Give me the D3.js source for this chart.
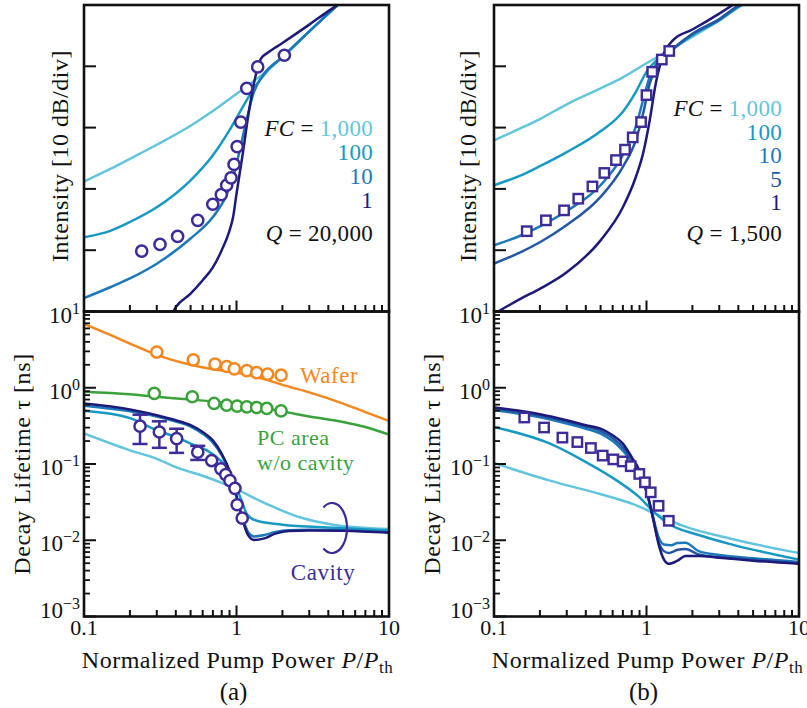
<!DOCTYPE html>
<html>
<head>
<meta charset="utf-8">
<script src="https://cdn.jsdelivr.net/npm/d3@7"></script>
<style>
  html, body { margin: 0; padding: 0; background: #fff; }
  svg { display: block; }
  text { font-family: "Liberation Serif", "Times New Roman", serif; fill: #111; }
</style>
</head>
<body>
<svg id="fig" width="807" height="708"></svg>
<script>
// ---------- axis ticks ----------
const pumpMajor = [0.1, 1, 10];
const pumpMajorLabels = ["0.1", "1", "10"];
const lifetimeExponents = [1, 0, -1, -2, -3];
const intensityTicks = [1, 2, 3, 4];          // divisions of 10 dB

// ---------- (a) Q = 20,000 : intensity [div] vs P/Pth ----------
const intA_fc1000 = [[0.1,2.12],[0.15,2.33],[0.2,2.49],[0.3,2.72],[0.5,3.03],[0.7,3.27],[1,3.55],[1.5,3.88],[2,4.15],[3,4.57],[4,4.86],[5,5.08]];
const intA_fc100  = [[0.1,1.21],[0.15,1.32],[0.2,1.46],[0.3,1.70],[0.5,2.14],[0.7,2.55],[0.9,2.96],[1.1,3.34],[1.3,3.64],[1.6,3.93],[2,4.15],[3,4.57],[4,4.86],[5,5.08]];
const intA_fc10   = [[0.1,0.22],[0.15,0.40],[0.2,0.54],[0.3,0.78],[0.5,1.19],[0.7,1.54],[0.85,1.87],[0.95,2.19],[1.05,2.63],[1.15,3.07],[1.3,3.58],[1.5,3.86],[2,4.15],[3,4.57],[4,4.86],[5,5.08]];
const intA_fc1    = [[0.36,-0.15],[0.4,0.07],[0.5,0.29],[0.6,0.51],[0.7,0.72],[0.8,1.0],[0.9,1.32],[0.95,1.54],[1.0,1.92],[1.1,2.58],[1.2,3.23],[1.3,3.72],[1.45,4.13],[1.6,4.22],[2,4.38],[3,4.68],[4,4.90],[5,5.06]];
const intA_meas   = [[0.239,0.985],[0.315,1.095],[0.411,1.225],[0.557,1.487],[0.699,1.75],[0.795,1.907],[0.862,2.06],[0.921,2.18],[0.964,2.40],[1.01,2.69],[1.067,3.09],[1.168,3.64],[1.377,3.99],[2.06,4.18]];

// ---------- (b) Q = 1,500 : intensity [div] vs P/Pth ----------
const intB_fc1000 = [[0.1,2.79],[0.15,2.99],[0.2,3.14],[0.3,3.38],[0.5,3.64],[0.7,3.82],[1,4.05],[1.4,4.26],[2,4.48],[3,4.75],[4,4.96],[5,5.1]];
const intB_fc100  = [[0.1,2.06],[0.15,2.22],[0.2,2.37],[0.3,2.60],[0.5,2.94],[0.7,3.26],[0.85,3.58],[1.0,3.91],[1.2,4.13],[1.5,4.29],[2,4.51],[3,4.75],[4,4.97],[5,5.1]];
const intB_fc10   = [[0.1,1.08],[0.15,1.24],[0.2,1.39],[0.3,1.64],[0.5,2.06],[0.7,2.55],[0.85,3.01],[0.95,3.45],[1.05,3.83],[1.2,4.10],[1.5,4.29],[2,4.52],[3,4.76],[4,4.98],[5,5.1]];
const intB_fc5    = [[0.1,0.78],[0.15,0.97],[0.2,1.13],[0.3,1.41],[0.5,1.87],[0.7,2.36],[0.85,2.79],[0.95,3.23],[1.05,3.72],[1.2,4.05],[1.5,4.29],[2,4.53],[3,4.77],[4,4.99],[5,5.1]];
const intB_fc1    = [[0.1,-0.04],[0.15,0.21],[0.2,0.37],[0.3,0.64],[0.5,1.16],[0.7,1.70],[0.85,2.19],[0.95,2.58],[1.05,3.12],[1.15,3.72],[1.3,4.21],[1.5,4.43],[2,4.60],[3,4.86],[4,5.06]];
const intB_meas   = [[0.164,1.31],[0.219,1.487],[0.288,1.65],[0.357,1.84],[0.442,2.04],[0.529,2.26],[0.631,2.47],[0.723,2.64],[0.812,2.84],[0.921,3.09],[1.0,3.53],[1.09,3.91],[1.26,4.11],[1.41,4.25]];

// ---------- (a) decay lifetime [ns] ----------
const tauA_wafer  = [[0.1,6.9],[0.15,4.9],[0.2,3.8],[0.3,2.7],[0.5,2.0],[0.7,1.75],[1,1.58],[1.5,1.31],[2,1.09],[3,0.87],[5,0.62],[7,0.48],[10,0.367]];
const tauA_pc     = [[0.1,0.887],[0.2,0.82],[0.3,0.76],[0.5,0.70],[1,0.61],[2,0.49],[3,0.42],[5,0.356],[7,0.306],[10,0.243]];
const tauA_fc1    = [[0.1,0.62],[0.2,0.52],[0.3,0.436],[0.4,0.375],[0.5,0.323],[0.6,0.263],[0.7,0.204],[0.8,0.136],[0.9,0.082],[1.0,0.038],[1.1,0.018],[1.2,0.0114],[1.3,0.0101],[1.5,0.0105],[1.8,0.0122],[2.2,0.0132],[3,0.0134],[5,0.0133],[10,0.0125]];
const tauA_fc10   = [[0.1,0.58],[0.2,0.49],[0.3,0.42],[0.4,0.36],[0.5,0.31],[0.6,0.25],[0.7,0.19],[0.8,0.13],[0.9,0.078],[1.0,0.037],[1.1,0.019],[1.2,0.0125],[1.3,0.0112],[1.5,0.0116],[1.8,0.0128],[2.2,0.0135],[3,0.0137],[5,0.0135],[10,0.0128]];
const tauA_fc100  = [[0.1,0.5],[0.2,0.40],[0.3,0.277],[0.4,0.226],[0.5,0.185],[0.64,0.151],[0.75,0.12],[0.86,0.091],[1.0,0.049],[1.1,0.03],[1.17,0.022],[1.36,0.018],[2,0.016],[4.3,0.0146],[10,0.0134]];
const tauA_fc1000 = [[0.1,0.251],[0.2,0.151],[0.3,0.117],[0.4,0.091],[0.64,0.067],[0.95,0.049],[1.58,0.0298],[2.6,0.020],[4.3,0.016],[10,0.014]];
const tauA_waferMeas = [[0.3,2.94],[0.521,2.32],[0.723,2.04],[0.862,1.90],[0.968,1.77],[1.168,1.68],[1.356,1.58],[1.6,1.51],[1.96,1.46]];
const tauA_pcMeas    = [[0.289,0.845],[0.513,0.762],[0.713,0.622],[0.862,0.59],[1.01,0.574],[1.168,0.562],[1.356,0.551],[1.58,0.535],[1.96,0.497]];
const tauA_cavMeas   = [[0.233,0.313],[0.312,0.263],[0.405,0.215],[0.557,0.143],[0.687,0.111],[0.79,0.0865],[0.85,0.0727],[0.906,0.0605],[0.977,0.0479],[1.01,0.0292],[1.09,0.0195]];
const tauA_cavErr    = [0.13, 0.10, 0.075, 0.03];

// ---------- (b) decay lifetime [ns] ----------
const tauB_fc1    = [[0.1,0.55],[0.2,0.45],[0.3,0.375],[0.4,0.323],[0.5,0.291],[0.6,0.238],[0.7,0.185],[0.8,0.123],[0.9,0.082],[1.0,0.045],[1.1,0.02],[1.2,0.0089],[1.3,0.0056],[1.4,0.0049],[1.6,0.0054],[1.8,0.0062],[2.2,0.0062],[3,0.0059],[5,0.0054],[10,0.0049]];
const tauB_fc5    = [[0.1,0.53],[0.2,0.43],[0.3,0.36],[0.4,0.31],[0.5,0.27],[0.6,0.22],[0.7,0.165],[0.8,0.115],[0.9,0.078],[1.0,0.044],[1.1,0.02],[1.2,0.0095],[1.3,0.0072],[1.4,0.0068],[1.6,0.0075],[1.8,0.0077],[2.2,0.0065],[3,0.006],[5,0.0056],[10,0.005]];
const tauB_fc10   = [[0.1,0.51],[0.2,0.41],[0.3,0.34],[0.4,0.29],[0.5,0.25],[0.6,0.2],[0.7,0.15],[0.8,0.108],[0.9,0.072],[1.0,0.043],[1.1,0.021],[1.2,0.011],[1.3,0.0088],[1.45,0.0086],[1.6,0.0092],[1.8,0.0093],[2.2,0.0072],[3,0.0064],[5,0.0058],[10,0.0052]];
const tauB_fc100  = [[0.1,0.306],[0.233,0.185],[0.385,0.111],[0.64,0.0605],[0.9,0.0365],[1.1,0.0243],[1.36,0.017],[2.2,0.0117],[3.7,0.0087],[10,0.0056]];
const tauB_fc1000 = [[0.1,0.103],[0.233,0.0605],[0.496,0.0404],[0.818,0.0298],[1.1,0.023],[1.74,0.0154],[3.7,0.0103],[10,0.0068]];
const tauB_meas   = [[0.158,0.407],[0.213,0.301],[0.281,0.222],[0.352,0.194],[0.432,0.162],[0.516,0.129],[0.606,0.115],[0.698,0.108],[0.788,0.0936],[0.897,0.0741],[0.977,0.0575],[1.066,0.0425],[1.2,0.0283],[1.4,0.018]];

// ---------- legend text ----------
const fcLabelsA = ["1,000", "100", "10", "1"];
const fcLabelsB = ["1,000", "100", "10", "5", "1"];
const qLabelA = "20,000";
const qLabelB = "1,500";

// ---------- styling ----------
const COL = {
  fc1000: "#62c5dc", fc100: "#1899c4", fc10: "#1c78b8", fc5: "#2457a3", fc1: "#1d1a7a",
  marker: "#3d2c98", wafer: "#f4871e", pc: "#3aa23a"
};

const svg = d3.select("#fig");
const panels = [
  { key: "a", x0: 84, x1: 389 },
  { key: "b", x0: 494, x1: 799 }
];
const TOP = { y0: 5, y1: 311.5 };
const BOT = { y0: 311.5, y1: 616.5 };

const yInt = d3.scaleLinear().domain([0, 5]).range([TOP.y1, TOP.y0]);
const yTau = d3.scaleLog().domain([1e-3, 10]).range([BOT.y1, BOT.y0]);

function lineGen(x, y) {
  return d3.line().x(d => x(d[0])).y(d => y(d[1])).curve(d3.curveMonotoneX);
}

function drawFrame(g, x0, x1, y0, y1) {
  g.append("rect").attr("x", x0).attr("y", y0).attr("width", x1 - x0).attr("height", y1 - y0)
    .attr("fill", "none").attr("stroke", "#111").attr("stroke-width", 2.6);
}

function xTicks(g, x, yBase) {
  const minor = [];
  [0.1, 1].forEach(dec => { for (let k = 2; k <= 9; k++) minor.push(dec * k); });
  g.selectAll(null).data(minor).enter().append("line")
    .attr("x1", d => x(d)).attr("x2", d => x(d)).attr("y1", yBase).attr("y2", yBase - 6.5)
    .attr("stroke", "#111").attr("stroke-width", 2);
  g.selectAll(null).data(pumpMajor).enter().append("line")
    .attr("x1", d => x(d)).attr("x2", d => x(d)).attr("y1", yBase).attr("y2", yBase - 11)
    .attr("stroke", "#111").attr("stroke-width", 2);
}

function powLabel(g, xr, y, exp) {
  const t = g.append("text").attr("x", xr).attr("y", y).attr("text-anchor", "end").attr("font-size", 23);
  t.append("tspan").text("10");
  t.append("tspan").attr("dy", -9).attr("font-size", 16).text(exp < 0 ? "\u2212" + (-exp) : String(exp));
}

function drawSeries(g, data, x, y, color, clipId) {
  g.append("path").datum(data).attr("d", lineGen(x, y)).attr("fill", "none")
    .attr("stroke", color).attr("stroke-width", 2.5).attr("stroke-linejoin", "round")
    .attr("clip-path", `url(#${clipId})`);
}

function drawCircles(g, data, x, y, color) {
  g.selectAll(null).data(data).enter().append("circle")
    .attr("cx", d => x(d[0])).attr("cy", d => y(d[1])).attr("r", 5.6)
    .attr("fill", "#fff").attr("stroke", color).attr("stroke-width", 2.5);
}

function drawSquares(g, data, x, y, color) {
  const s = 9.4;
  g.selectAll(null).data(data).enter().append("rect")
    .attr("x", d => x(d[0]) - s / 2).attr("y", d => y(d[1]) - s / 2).attr("width", s).attr("height", s)
    .attr("fill", "#fff").attr("stroke", color).attr("stroke-width", 2.4);
}

const defs = svg.append("defs");

panels.forEach(p => {
  const x = d3.scaleLog().domain([0.1, 10]).range([p.x0, p.x1]);
  const g = svg.append("g");

  defs.append("clipPath").attr("id", "clipTop" + p.key).append("rect")
    .attr("x", p.x0).attr("y", TOP.y0).attr("width", p.x1 - p.x0).attr("height", TOP.y1 - TOP.y0);
  defs.append("clipPath").attr("id", "clipBot" + p.key).append("rect")
    .attr("x", p.x0).attr("y", BOT.y0).attr("width", p.x1 - p.x0).attr("height", BOT.y1 - BOT.y0);

  // ----- intensity panel -----
  const topSeries = p.key === "a"
    ? [[intA_fc1000, COL.fc1000], [intA_fc100, COL.fc100], [intA_fc10, COL.fc10], [intA_fc1, COL.fc1]]
    : [[intB_fc1000, COL.fc1000], [intB_fc100, COL.fc100], [intB_fc10, COL.fc10], [intB_fc5, COL.fc5], [intB_fc1, COL.fc1]];
  topSeries.forEach(([d, c]) => drawSeries(g, d, x, yInt, c, "clipTop" + p.key));
  if (p.key === "a") drawCircles(g, intA_meas, x, yInt, COL.marker);
  else drawSquares(g, intB_meas, x, yInt, COL.marker);

  // ----- lifetime panel -----
  if (p.key === "a") {
    drawSeries(g, tauA_wafer, x, yTau, COL.wafer, "clipBota");
    drawSeries(g, tauA_pc, x, yTau, COL.pc, "clipBota");
    [[tauA_fc1000, COL.fc1000], [tauA_fc100, COL.fc100], [tauA_fc10, COL.fc10], [tauA_fc1, COL.fc1]]
      .forEach(([d, c]) => drawSeries(g, d, x, yTau, c, "clipBota"));
    drawCircles(g, tauA_waferMeas, x, yTau, COL.wafer);
    drawCircles(g, tauA_pcMeas, x, yTau, COL.pc);
    // error bars on the first cavity points
    const eb = tauA_cavErr.map((e, i) => ({ p: tauA_cavMeas[i][0], v: tauA_cavMeas[i][1], e }));
    eb.forEach(d => {
      const cx = x(d.p), ylo = yTau(d.v - d.e), yhi = yTau(d.v + d.e);
      g.append("line").attr("x1", cx).attr("x2", cx).attr("y1", ylo).attr("y2", yhi)
        .attr("stroke", COL.marker).attr("stroke-width", 2.5);
      [ylo, yhi].forEach(yy => g.append("line").attr("x1", cx - 7.5).attr("x2", cx + 7.5)
        .attr("y1", yy).attr("y2", yy).attr("stroke", COL.marker).attr("stroke-width", 2.5));
    });
    drawCircles(g, tauA_cavMeas, x, yTau, COL.marker);
  } else {
    [[tauB_fc1000, COL.fc1000], [tauB_fc100, COL.fc100], [tauB_fc10, COL.fc10], [tauB_fc5, COL.fc5], [tauB_fc1, COL.fc1]]
      .forEach(([d, c]) => drawSeries(g, d, x, yTau, c, "clipBotb"));
    drawSquares(g, tauB_meas, x, yTau, COL.marker);
  }

  // ----- ticks -----
  xTicks(g, x, TOP.y1);
  xTicks(g, x, BOT.y1);
  g.selectAll(null).data(intensityTicks).enter().append("line")
    .attr("x1", p.x0).attr("x2", p.x0 + 12).attr("y1", d => yInt(d)).attr("y2", d => yInt(d))
    .attr("stroke", "#111").attr("stroke-width", 2);
  const tauMinor = [];
  [-3, -2, -1, 0].forEach(e => { for (let k = 2; k <= 9; k++) tauMinor.push(k * Math.pow(10, e)); });
  g.selectAll(null).data(tauMinor).enter().append("line")
    .attr("x1", p.x0).attr("x2", p.x0 + 6).attr("y1", d => yTau(d)).attr("y2", d => yTau(d))
    .attr("stroke", "#111").attr("stroke-width", 1.8);
  g.selectAll(null).data(lifetimeExponents).enter().append("line")
    .attr("x1", p.x0).attr("x2", p.x0 + 12).attr("y1", d => yTau(Math.pow(10, d))).attr("y2", d => yTau(Math.pow(10, d)))
    .attr("stroke", "#111").attr("stroke-width", 2);

  drawFrame(g, p.x0, p.x1, TOP.y0, TOP.y1);
  drawFrame(g, p.x0, p.x1, BOT.y0, BOT.y1);

  // ----- tick labels -----
  lifetimeExponents.forEach((e, i) => {
    const yy = yTau(Math.pow(10, e)) + (i === lifetimeExponents.length - 1 ? 1 : 11);
    powLabel(g, p.x0 - 4, yy, e);
  });
  pumpMajor.forEach((v, i) => {
    g.append("text").attr("x", x(v)).attr("y", 635).attr("text-anchor", "middle").attr("font-size", 22)
      .text(pumpMajorLabels[i]);
  });

  // ----- axis titles -----
  const xt = g.append("text").attr("x", (p.x0 + p.x1) / 2 + 1).attr("y", 668)
    .attr("text-anchor", "middle").attr("font-size", 24).attr("letter-spacing", 0.5);
  xt.append("tspan").text("Normalized Pump Power ");
  xt.append("tspan").attr("font-style", "italic").text("P");
  xt.append("tspan").text("/");
  xt.append("tspan").attr("font-style", "italic").text("P");
  xt.append("tspan").attr("dy", 5).attr("font-size", 17).text("th");

  g.append("text").attr("x", (p.x0 + p.x1) / 2 - 3).attr("y", 700).attr("text-anchor", "middle")
    .attr("font-size", 25).text("(" + p.key + ")");

  const yl1x = p.key === "a" ? 68 : 476;
  const yl2x = p.key === "a" ? 30 : 440;
  g.append("text").attr("transform", `translate(${yl1x},156) rotate(-90)`).attr("text-anchor", "middle")
    .attr("font-size", 24).attr("letter-spacing", 0.5).text("Intensity [10 dB/div]");
  g.append("text").attr("transform", `translate(${yl2x},464) rotate(-90)`).attr("text-anchor", "middle")
    .attr("font-size", 24).attr("letter-spacing", 0.6).text("Decay Lifetime \u03C4 [ns]");

  // ----- FC legend -----
  const labels = p.key === "a" ? fcLabelsA : fcLabelsB;
  const colors = p.key === "a" ? [COL.fc1000, COL.fc100, COL.fc10, COL.fc1]
                               : [COL.fc1000, COL.fc100, COL.fc10, COL.fc5, COL.fc1];
  const xr = p.key === "a" ? 373 : 782;
  const baseY = p.key === "a" ? 136 : 116;
  const step = p.key === "a" ? 24 : 23.5;
  labels.forEach((lab, i) => {
    const t = g.append("text").attr("x", xr).attr("y", baseY + i * step).attr("text-anchor", "end")
      .attr("font-size", 23).attr("letter-spacing", 0.3);
    if (i === 0) {
      t.append("tspan").attr("font-style", "italic").text("FC");
      t.append("tspan").text(" = ");
    }
    t.append("tspan").style("fill", colors[i]).text(lab);
  });
  const q = g.append("text").attr("x", xr).attr("y", 241).attr("text-anchor", "end")
    .attr("font-size", 23).attr("letter-spacing", 0.3);
  q.append("tspan").attr("font-style", "italic").text("Q");
  q.append("tspan").text(" = " + (p.key === "a" ? qLabelA : qLabelB));
});

// ----- labels inside the (a) lifetime panel -----
const ann = svg.append("g");
ann.append("text").attr("x", 300).attr("y", 383).attr("font-size", 23).attr("letter-spacing", 0.5)
  .style("fill", COL.wafer).text("Wafer");
ann.append("text").attr("x", 257).attr("y", 445).attr("font-size", 22).attr("letter-spacing", 0.5)
  .style("fill", COL.pc).text("PC area");
ann.append("text").attr("x", 257).attr("y", 470).attr("font-size", 22).attr("letter-spacing", 0.5)
  .style("fill", COL.pc).text("w/o cavity");
ann.append("text").attr("x", 323).attr("y", 580).attr("text-anchor", "middle").attr("font-size", 23)
  .attr("letter-spacing", 0.5).style("fill", COL.marker).text("Cavity");
// bracket around the cavity curves
{
  const cx = 332, cy = 528, rx = 15, ry = 25, a = 125 * Math.PI / 180;
  const sx = cx + rx * Math.cos(-a), sy = cy + ry * Math.sin(-a);
  const ex = cx + rx * Math.cos(a), ey = cy + ry * Math.sin(a);
  ann.append("path").attr("d", `M${sx},${sy} A${rx},${ry} 0 1 1 ${ex},${ey}`)
    .attr("fill", "none").attr("stroke", COL.marker).attr("stroke-width", 2.2);
}
</script>
</body>
</html>
